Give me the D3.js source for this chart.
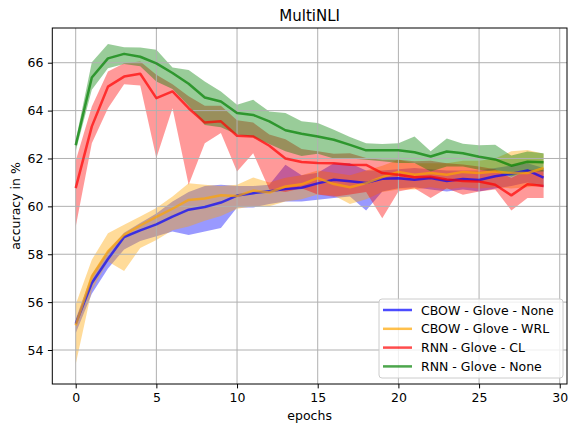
<!DOCTYPE html>
<html>
<head>
<meta charset="utf-8">
<script src="https://cdn.jsdelivr.net/npm/d3@7"></script>
<style>
  body { margin: 0; background: #fff; }
  svg { display: block; font-family: "DejaVu Sans", sans-serif; }
</style>
</head>
<body>
<div id="chart"></div>
<script>
// epochs 0..29
const epochs = d3.range(30);

const seriesNames = ['CBOW - Glove - None', 'CBOW - Glove - WRL', 'RNN - Glove - CL', 'RNN - Glove - None'];
const seriesColors = ['#0000ff', '#ffa500', '#ff0000', '#008000'];

// mean accuracy per epoch
const cbowNoneMean = [55.1, 56.8, 57.8, 58.72, 59.0, 59.25, 59.57, 59.86, 59.97, 60.16, 60.45, 60.55, 60.63, 60.72, 60.78, 60.96, 61.11, 61.05, 60.98, 61.15, 61.17, 61.11, 61.18, 61.06, 61.14, 61.1, 61.26, 61.36, 61.5, 61.2];
const cbowNoneLow  = [54.7, 56.35, 57.4, 58.2, 58.55, 58.75, 58.95, 58.8, 58.95, 59.1, 59.95, 59.95, 60.1, 60.2, 60.2, 60.28, 60.35, 60.41, 59.83, 60.62, 60.76, 60.8, 60.7, 60.62, 60.7, 60.62, 60.75, 60.85, 61.0, 60.8];
const cbowNoneHigh = [55.3, 57.15, 58.15, 58.9, 59.3, 59.7, 60.2, 60.6, 60.85, 60.9, 60.85, 60.85, 60.9, 61.74, 61.3, 61.4, 61.8, 61.8, 61.5, 61.5, 61.55, 61.6, 61.55, 61.5, 61.5, 61.5, 61.6, 61.7, 61.8, 61.6];

const cbowWrlMean = [55.03, 57.07, 58.12, 58.81, 59.2, 59.56, 59.9, 60.27, 60.33, 60.46, 60.43, 60.66, 60.58, 60.83, 60.92, 61.18, 60.93, 60.8, 60.97, 61.22, 61.44, 61.32, 61.39, 61.32, 61.44, 61.39, 61.46, 61.39, 61.39, 61.6];
const cbowWrlLow  = [53.4, 56.5, 57.7, 57.3, 58.26, 58.6, 59.0, 59.16, 59.4, 59.6, 59.9, 60.0, 60.0, 60.2, 60.3, 60.5, 60.45, 60.1, 60.3, 60.6, 60.7, 60.7, 60.8, 60.7, 60.8, 60.75, 60.8, 60.75, 60.8, 60.9];
const cbowWrlHigh = [55.9, 57.77, 58.88, 59.23, 59.58, 59.93, 60.41, 60.97, 60.9, 60.85, 60.9, 61.21, 61.0, 61.2, 61.3, 61.5, 61.4, 61.3, 61.5, 61.7, 61.95, 61.8, 61.8, 61.8, 61.9, 61.9, 62.0, 62.3, 62.35, 62.2];

const rnnClMean = [60.76, 63.34, 65.0, 65.42, 65.54, 64.52, 64.8, 64.1, 63.5, 63.55, 62.95, 62.92, 62.53, 62.0, 61.85, 61.81, 61.8, 61.74, 61.73, 61.39, 61.32, 61.22, 61.24, 61.12, 61.06, 61.04, 60.9, 60.46, 60.92, 60.85];
const rnnClLow  = [59.15, 62.64, 64.1, 65.1, 65.05, 62.02, 64.1, 60.9, 62.64, 63.06, 61.46, 62.22, 60.7, 60.6, 60.76, 60.5, 60.4, 60.5, 60.6, 59.5, 60.62, 60.76, 60.35, 60.76, 60.48, 60.62, 60.7, 59.83, 60.35, 60.35];
const rnnClHigh = [61.9, 64.17, 65.63, 65.98, 66.05, 65.5, 65.1, 64.6, 64.2, 64.2, 63.6, 63.5, 63.0, 62.8, 62.4, 62.3, 62.2, 62.22, 62.02, 61.95, 61.95, 61.88, 61.9, 61.8, 61.75, 61.67, 61.55, 61.18, 61.53, 61.53];

const rnnNoneMean = [62.55, 65.38, 66.18, 66.37, 66.25, 65.97, 65.57, 65.12, 64.55, 64.38, 63.9, 63.82, 63.55, 63.18, 63.03, 62.92, 62.78, 62.57, 62.34, 62.34, 62.34, 62.26, 62.08, 62.29, 62.22, 62.07, 61.96, 61.7, 61.86, 61.84];
const rnnNoneLow  = [62.3, 64.87, 65.77, 65.95, 65.85, 65.22, 64.9, 64.2, 63.4, 63.3, 63.0, 62.9, 62.6, 62.3, 62.1, 62.2, 62.0, 62.0, 61.95, 61.88, 61.81, 61.81, 61.46, 61.67, 61.67, 61.53, 61.46, 61.25, 61.46, 61.46];
const rnnNoneHigh = [62.75, 66.02, 66.78, 66.65, 66.64, 66.54, 65.8, 65.7, 65.22, 64.8, 64.24, 64.45, 63.96, 63.9, 63.55, 63.48, 63.2, 62.9, 62.64, 62.6, 62.64, 62.92, 62.3, 62.83, 62.62, 62.55, 62.57, 62.12, 62.29, 62.22];

const xTicks = [0, 5, 10, 15, 20, 25, 30];
const yTicks = [54, 56, 58, 60, 62, 64, 66];

const series = [
    { mean: cbowNoneMean, low: cbowNoneLow, high: cbowNoneHigh },
    { mean: cbowWrlMean, low: cbowWrlLow, high: cbowWrlHigh },
    { mean: rnnClMean, low: rnnClLow, high: rnnClHigh },
    { mean: rnnNoneMean, low: rnnNoneLow, high: rnnNoneHigh }
].map((s, i) => ({ ...s, name: seriesNames[i], color: seriesColors[i] }));

const width = 569, height = 427;
const margin = { top: 28, right: 2, bottom: 43, left: 52.3 };

const svg = d3.select('#chart')
    .append('svg')
    .attr('width', width)
    .attr('height', height);

const x = d3.scaleLinear().domain([-1.45, 30.45]).range([margin.left, width - margin.right]);
const y = d3.scaleLinear().domain([52.58, 67.45]).range([height - margin.bottom, margin.top]);

// bands
const area = d3.area()
    .x((d, i) => x(epochs[i]))
    .y0(d => y(d[0]))
    .y1(d => y(d[1]));

series.forEach(s => {
    svg.append('path')
        .datum(s.low.map((v, i) => [v, s.high[i]]))
        .attr('d', area)
        .attr('fill', s.color)
        .attr('fill-opacity', 0.4);
});

// grid (above fills, below lines)
const grid = svg.append('g').attr('stroke', '#b0b0b0').attr('stroke-width', 1);
grid.selectAll('.gx').data(xTicks).enter().append('line')
    .attr('x1', d => x(d)).attr('x2', d => x(d))
    .attr('y1', margin.top).attr('y2', height - margin.bottom);
grid.selectAll('.gy').data(yTicks).enter().append('line')
    .attr('x1', margin.left).attr('x2', width - margin.right)
    .attr('y1', d => y(d)).attr('y2', d => y(d));

// mean lines
const line = d3.line()
    .x((d, i) => x(epochs[i]))
    .y(d => y(d));

series.forEach(s => {
    svg.append('path')
        .datum(s.mean)
        .attr('d', line)
        .attr('fill', 'none')
        .attr('stroke', s.color)
        .attr('stroke-opacity', 0.7)
        .attr('stroke-width', 2.5)
        .attr('stroke-linejoin', 'round');
});

// axes
const xAxis = svg.append('g')
    .attr('transform', `translate(0,${height - margin.bottom})`)
    .call(d3.axisBottom(x).tickValues(xTicks).tickSize(4.4).tickPadding(4.5));
const yAxis = svg.append('g')
    .attr('transform', `translate(${margin.left},0)`)
    .call(d3.axisLeft(y).tickValues(yTicks).tickSize(4.4).tickPadding(4.5));

[xAxis, yAxis].forEach(g => {
    g.select('.domain').remove();
    g.selectAll('text').attr('font-size', 12.5).attr('fill', '#000').attr('font-family', '"DejaVu Sans", sans-serif');
    g.selectAll('line').attr('stroke', '#000').attr('stroke-width', 1);
});

// spines
svg.append('rect')
    .attr('x', margin.left).attr('y', margin.top)
    .attr('width', width - margin.right - margin.left)
    .attr('height', height - margin.bottom - margin.top)
    .attr('fill', 'none').attr('stroke', '#000').attr('stroke-width', 1);

// title and axis labels
svg.append('text')
    .attr('x', (margin.left + width - margin.right) / 2).attr('y', 21)
    .attr('text-anchor', 'middle').attr('font-size', 15)
    .text('MultiNLI');

svg.append('text')
    .attr('x', (margin.left + width - margin.right) / 2).attr('y', 420)
    .attr('text-anchor', 'middle').attr('font-size', 12.5)
    .text('epochs');

svg.append('text')
    .attr('transform', `translate(20,${(margin.top + height - margin.bottom) / 2}) rotate(-90)`)
    .attr('text-anchor', 'middle').attr('font-size', 12.5)
    .text('accuracy in %');

// legend
const legend = svg.append('g').attr('transform', 'translate(379,299)');
legend.append('rect')
    .attr('width', 184).attr('height', 79).attr('rx', 3)
    .attr('fill', '#fff').attr('fill-opacity', 0.8)
    .attr('stroke', '#cccccc').attr('stroke-width', 1);

const item = legend.selectAll('.item')
    .data(series)
    .enter()
    .append('g')
    .attr('transform', (d, i) => `translate(0,${11 + i * 18.8})`);

item.append('line')
    .attr('x1', 4).attr('x2', 33)
    .attr('stroke', d => d.color).attr('stroke-opacity', 0.7).attr('stroke-width', 2.5);

item.append('text')
    .attr('x', 42).attr('dy', '0.36em')
    .attr('font-size', 12.5)
    .text(d => d.name);
</script>
</body>
</html>
